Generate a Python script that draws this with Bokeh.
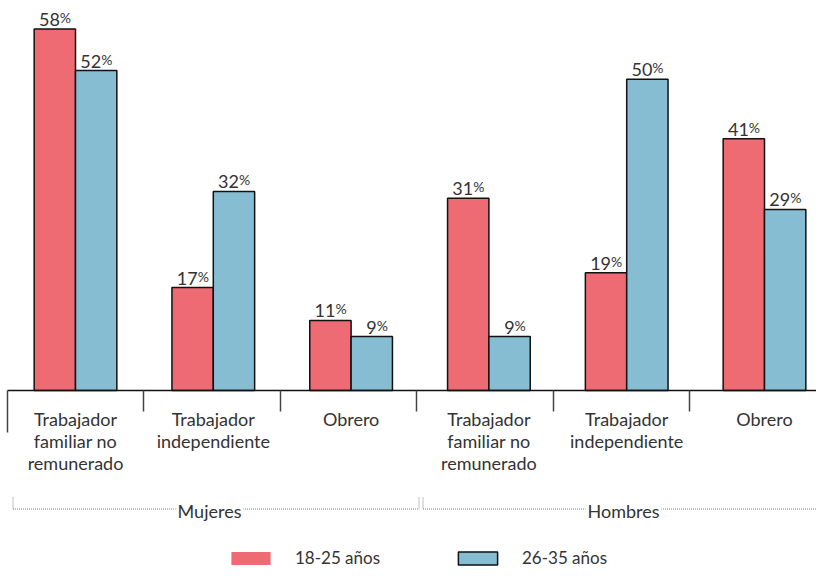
from bokeh.plotting import figure
from bokeh.models import Range1d, ColumnDataSource, Legend, LegendItem, Label
from bokeh.core.properties import value
from bokeh.embed import file_html
from bokeh.resources import INLINE

# ---- data ----
groups = ["Mujeres", "Hombres"]
categories = ["Trabajador\nfamiliar no\nremunerado", "Trabajador\nindependiente", "Obrero",
              "Trabajador\nfamiliar no\nremunerado", "Trabajador\nindependiente", "Obrero"]
series_names = ["18-25 años", "26-35 años"]
edad_18_25 = [58.3, 16.6, 11.3, 31.0, 19.0, 40.6]
edad_26_35 = [51.6, 32.1, 8.7, 8.7, 50.2, 29.2]

# ---- layout constants (styling / positions, not data) ----
W, H = 816, 568
PX = 6.2            # pixels per percentage point
BASE = 390          # baseline row (px from top)
LEFT = 6.1          # px column of data x = 0
CW = 137.8          # px per category
FONT = value("Lato")
RED = "#EF6B73"
BLUE = "#86BDD3"
TXT = "#333333"
DOT = "#808080"
SEP_PX = [7, 143, 280, 416, 553, 689]          # separator tick columns
SPAN_PX = [(12.5, 418.5), (422.5, 824)]        # group bracket extents
GROUP_LABEL_PX = [209, 623]                    # group label centres

def d(py):
    """pixel row -> data y"""
    return (BASE - py) / PX

def dx(px):
    """pixel column -> data x"""
    return (px - LEFT) / CW

n = len(categories)
centers = [i + 0.5 for i in range(n)]
bw = 0.30

p = figure(width=W, height=H, output_backend="svg", toolbar_location=None,
           x_range=Range1d(dx(0), dx(W)), y_range=Range1d(d(H), d(0)),
           min_border=0, x_axis_location=None, y_axis_location=None)
p.grid.visible = False
p.outline_line_color = None
p.background_fill_color = "white"

src = ColumnDataSource(dict(
    xr=[c - bw / 2 for c in centers], xb=[c + bw / 2 for c in centers],
    a=edad_18_25, b=edad_26_35,
    la=[str(round(v)) for v in edad_18_25], lb=[str(round(v)) for v in edad_26_35],
))

r_red = p.vbar(x="xr", top="a", width=bw, bottom=0, source=src,
               fill_color=RED, line_color=None)
p.vbar(x="xr", top="a", width=bw, bottom=0, source=src,
       fill_color=None, line_color="#111111", line_width=1.5)
r_blue = p.vbar(x="xb", top="b", width=bw, bottom=0, source=src,
                fill_color=BLUE, line_color="#111111", line_width=1.5)

# value labels: number + smaller percent sign
for xcol, ycol, lcol in (("xr", "a", "la"), ("xb", "b", "lb")):
    p.text(x=xcol, y=ycol, text=lcol, source=src, text_align="right",
           text_baseline="bottom", x_offset=5, y_offset=-3,
           text_font=FONT, text_font_size="18px", text_color=TXT)
    p.text(x=xcol, y=ycol, text=value("%"), source=src, text_align="left",
           text_baseline="bottom", x_offset=5, y_offset=-3,
           text_font=FONT, text_font_size="14px", text_color=TXT)

# baseline
p.segment(x0=[dx(7)], y0=[0], x1=[dx(824)], y1=[0], line_color="#111111", line_width=1.6)

# separator ticks
tick_x = [dx(v) for v in SEP_PX]
tick_bottom = [d(432) if i == 0 else d(411) for i in range(len(tick_x))]
p.segment(x0=tick_x, y0=[0] * len(tick_x), x1=tick_x, y1=tick_bottom,
          line_color="#444444", line_width=1.5)

# category labels
p.text(x=centers, y=[d(407)] * n, text=categories, text_align="center",
       text_baseline="top", text_font=FONT, text_font_size="18px",
       text_color=TXT, text_line_height=1.02)

# group brackets (dotted) and labels
gy = d(508.5)
for (s0, s1), lx, name in zip(SPAN_PX, GROUP_LABEL_PX, groups):
    x0, x1 = dx(s0), dx(s1)
    p.segment(x0=[x0], y0=[gy], x1=[x1], y1=[gy], line_color=DOT,
              line_width=1, line_dash="1 1")
    p.segment(x0=[x0, x1], y0=[d(497)] * 2, x1=[x0, x1], y1=[gy] * 2,
              line_color=DOT, line_width=1, line_dash="1 1")
    p.add_layout(Label(x=dx(lx), y=d(510), text=name,
                       text_align="center", text_baseline="middle",
                       text_font="Lato", text_font_size="18px",
                       text_color=TXT, background_fill_color="white", padding=2))

# legend
legend = Legend(items=[LegendItem(label=series_names[0], renderers=[r_red]),
                       LegendItem(label=series_names[1], renderers=[r_blue])],
                orientation="horizontal", location=(226, 0),
                glyph_width=49, glyph_height=16, label_standoff=20,
                label_width=150, label_height=16, spacing=8, padding=0, margin=0,
                border_line_color=None, background_fill_alpha=0,
                label_text_font="Lato", label_text_font_size="17px",
                label_text_color=TXT)
p.add_layout(legend)

open("out.html", "w").write(file_html(p, INLINE))
